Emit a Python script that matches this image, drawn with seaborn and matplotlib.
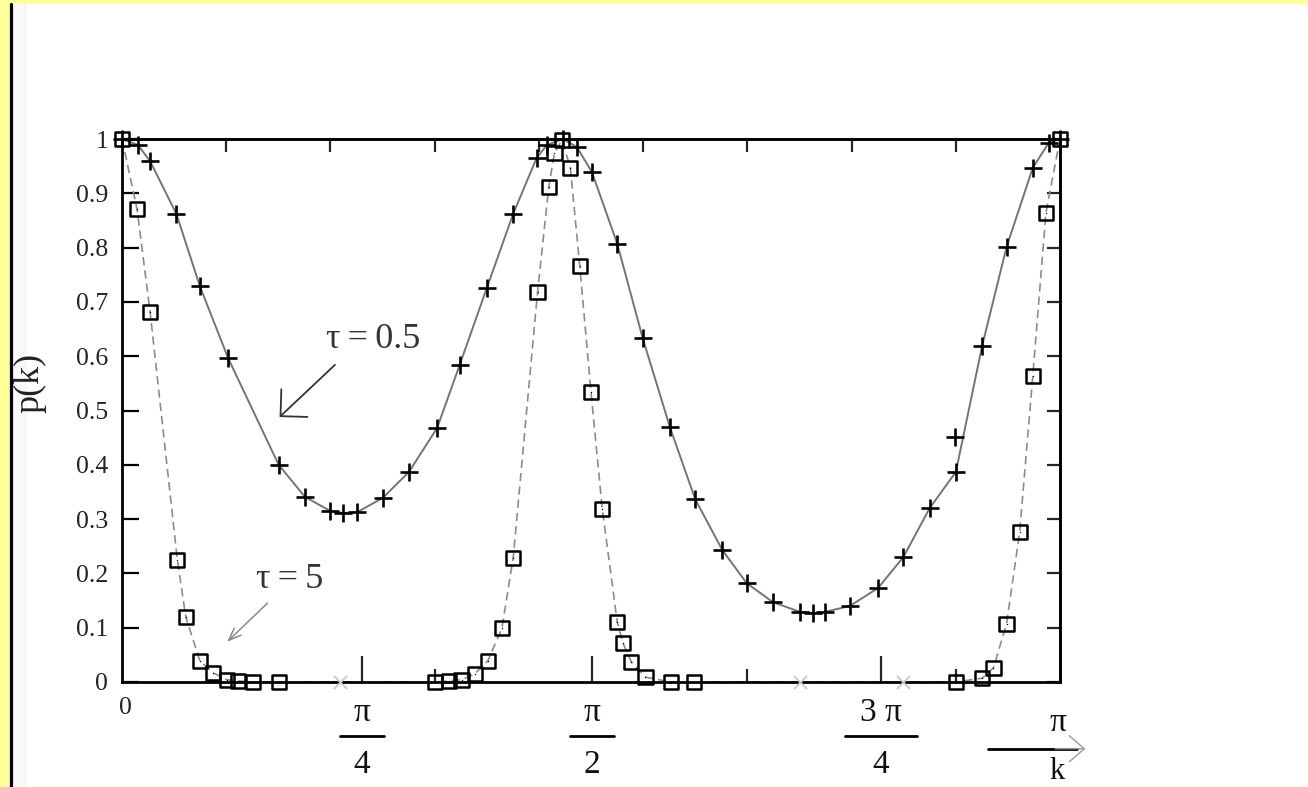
import matplotlib
matplotlib.use("Agg")
import matplotlib.pyplot as plt
import seaborn as sns
import pandas as pd
from matplotlib.patches import Rectangle
from matplotlib.lines import Line2D

# k measured in units of pi (0 .. 1), p(k) on the vertical axis
k_tau05 = [0.000, 0.017, 0.030, 0.058, 0.083, 0.113, 0.167, 0.195, 0.222, 0.236,
           0.251, 0.278, 0.306, 0.336, 0.360, 0.389, 0.417, 0.442, 0.453, 0.470,
           0.485, 0.501, 0.528, 0.555, 0.584, 0.611, 0.640, 0.666, 0.694, 0.723,
           0.737, 0.749, 0.776, 0.806, 0.833, 0.861, 0.889, 0.917, 0.943, 0.971,
           0.988, 1.000]
p_tau05 = [1.000, 0.989, 0.959, 0.862, 0.729, 0.597, 0.400, 0.341, 0.315, 0.311,
           0.313, 0.339, 0.387, 0.468, 0.584, 0.726, 0.862, 0.965, 0.989, 1.000,
           0.985, 0.939, 0.807, 0.634, 0.470, 0.337, 0.243, 0.182, 0.147, 0.129,
           0.127, 0.129, 0.140, 0.173, 0.230, 0.320, 0.387, 0.619, 0.801, 0.947,
           0.993, 1.000]
k_tau05_extra = [0.888]
p_tau05_extra = [0.451]

k_tau5 = [0.000, 0.016, 0.030, 0.059, 0.068, 0.083, 0.097, 0.112, 0.124, 0.140,
          0.167, 0.334, 0.349, 0.362, 0.376, 0.390, 0.405, 0.417, 0.443, 0.455,
          0.461, 0.469, 0.478, 0.488, 0.500, 0.512, 0.528, 0.534, 0.543, 0.558,
          0.585, 0.610, 0.889, 0.917, 0.929, 0.943, 0.957, 0.971, 0.985, 1.000]
p_tau5 = [1.000, 0.871, 0.681, 0.225, 0.120, 0.039, 0.017, 0.004, 0.002, 0.000,
          0.000, 0.000, 0.002, 0.004, 0.015, 0.039, 0.099, 0.228, 0.718, 0.912,
          0.974, 0.998, 0.947, 0.766, 0.534, 0.319, 0.110, 0.072, 0.037, 0.009,
          0.000, 0.000, 0.000, 0.007, 0.026, 0.107, 0.276, 0.564, 0.864, 1.000]

k_faint = [0.232, 0.723, 0.833]
p_faint = [0.0, 0.0, 0.0]

y_ticks = [0.0, 0.1, 0.2, 0.3, 0.4, 0.5, 0.6, 0.7, 0.8, 0.9, 1.0]
y_ticklabels = ["0", "0.1", "0.2", "0.3", "0.4", "0.5", "0.6", "0.7", "0.8", "0.9", "1"]
top_ticks = [1 / 9, 2 / 9, 3 / 9, 4 / 9, 5 / 9, 6 / 9, 7 / 9, 8 / 9]
bottom_minor_ticks = [3 / 9, 6 / 9, 8 / 9]
pi_tick_pos = [0.256, 0.501, 0.809]
pi_tick_num = ["π", "π", "3 π"]
pi_tick_den = ["4", "2", "4"]
pi_bar_width = [0.047, 0.047, 0.077]

df05 = pd.DataFrame({"k": k_tau05, "p": p_tau05})
df5 = pd.DataFrame({"k": k_tau5, "p": p_tau5})

sns.set_style("white")
plt.rcParams["font.family"] = ["Liberation Serif", "DejaVu Serif"]

W, H = 1308, 787
fig = plt.figure(figsize=(W / 100, H / 100), dpi=100, facecolor="#FFFF99")
fig.add_artist(Rectangle((12 / W, 0), 1, 1 - 4 / H, transform=fig.transFigure,
                         facecolor="white", edgecolor="none", zorder=-2))
fig.add_artist(Rectangle((12.5 / W, 0), 14 / W, 1 - 4 / H, transform=fig.transFigure,
                         facecolor="#f8f8f8", edgecolor="none", zorder=-1))
fig.add_artist(Line2D([11.3 / W, 11.3 / W], [0, 1 - 4 / H], transform=fig.transFigure,
                      color="black", lw=2.3))

ax = fig.add_axes([122 / W, 1 - 682 / H, 938 / W, 543 / H])
ax.set_facecolor("none")

# curves
sns.lineplot(data=df05, x="k", y="p", ax=ax, color="#747474", lw=1.4,
             sort=False, estimator=None, zorder=2)
sns.lineplot(data=df5, x="k", y="p", ax=ax, color="#8c8c8c", lw=1.2,
             linestyle=(0, (5, 3)), sort=False, estimator=None, zorder=2)

# markers
sns.scatterplot(x=k_faint, y=p_faint, ax=ax, marker="x", s=90, color="#c9c9c9",
                linewidth=1.3, clip_on=False, zorder=3)
sns.scatterplot(x=k_tau05 + k_tau05_extra, y=p_tau05 + p_tau05_extra, ax=ax,
                marker="+", s=150, color="black", linewidth=1.9, clip_on=False, zorder=4)
sns.scatterplot(data=df5, x="k", y="p", ax=ax, marker="s", s=105,
                facecolors="none", edgecolor="black", linewidth=1.8,
                clip_on=False, zorder=5)
ax.collections[-1].set_facecolor("none")
sns.scatterplot(data=df5, x="k", y="p", ax=ax, marker=".", s=4, color="black",
                linewidth=0, clip_on=False, zorder=6)

ax.set_xlim(0, 1)
ax.set_ylim(0, 1)
ax.set_xlabel("")
ax.set_ylabel("")

for sp in ax.spines.values():
    sp.set_visible(True)
    sp.set_color("black")
    sp.set_linewidth(2)

# y axis
ax.set_yticks(y_ticks)
ax.set_yticklabels(y_ticklabels)
ax.tick_params(axis="y", direction="in", length=12, width=1.6, left=True,
               labelsize=18.5, pad=10, labelcolor="#222222", color="black")
right = ax.secondary_yaxis("right")
right.set_yticks(y_ticks)
right.tick_params(direction="in", length=9.5, width=1.6, labelright=False)
right.spines["right"].set_linewidth(2)

# x axis
ax.set_xticks(pi_tick_pos)
ax.set_xticklabels([""] * len(pi_tick_pos))
ax.set_xticks(bottom_minor_ticks, minor=True)
ax.tick_params(axis="x", which="major", direction="in", length=19, width=1.6, bottom=True)
ax.tick_params(axis="x", which="minor", direction="in", length=9.5, width=1.6, bottom=True)
top = ax.secondary_xaxis("top")
top.set_xticks(top_ticks)
top.tick_params(direction="in", length=9.5, width=1.6, labeltop=False)
top.spines["top"].set_linewidth(2)

xt = ax.get_xaxis_transform()
ax.text(0.004, -0.048, "0", transform=xt, ha="center", va="center",
        fontsize=18.5, color="#222222")
for pos, num, den, w in zip(pi_tick_pos, pi_tick_num, pi_tick_den, pi_bar_width):
    ax.text(pos, -0.057, num, transform=xt, ha="center", va="center",
            fontsize=24, color="#111111")
    ax.add_line(Line2D([pos - w / 2, pos + w / 2], [-0.0994, -0.0994], transform=xt,
                       color="black", lw=2, clip_on=False))
    ax.text(pos, -0.153, den, transform=xt, ha="center", va="center",
            fontsize=24, color="#111111")

# axis titles
fig.text(30 / W, 1 - 383 / H, "p(k)", rotation=90, ha="center", va="center",
         fontsize=26, color="#222222")
ax.annotate("", xy=(1.027, -0.123), xytext=(0.995, -0.123), xycoords=xt,
            annotation_clip=False,
            arrowprops=dict(arrowstyle="->,head_length=10.8,head_width=9.4",
                            mutation_scale=1, color="#9a9a9a", lw=1.0,
                            shrinkA=0, shrinkB=0))
ax.add_line(Line2D([0.923, 1.018], [-0.123, -0.123], transform=xt,
                   color="black", lw=2, clip_on=False))
ax.text(0.998, -0.0755, "π", transform=xt, ha="center", va="center",
        fontsize=24, color="#111111")
fig.text(1057 / W, 1 / H, "k", ha="center", va="bottom",
         fontsize=22, color="#111111")

# curve labels
ax.text(0.268, 0.630, "τ\u2009=\u20090.5", ha="center", va="center", fontsize=26,
        color="#333333")
ax.annotate("", xy=(0.168, 0.488), xytext=(0.227, 0.584),
            arrowprops=dict(arrowstyle="->,head_length=13.7,head_width=13.7",
                            mutation_scale=1, color="#333333", lw=1.3,
                            shrinkA=0, shrinkB=0))
ax.text(0.179, 0.188, "τ\u2009=\u20095", ha="center", va="center", fontsize=26,
        color="#333333")
ax.annotate("", xy=(0.112, 0.074), xytext=(0.155, 0.145),
            arrowprops=dict(arrowstyle="->,head_length=9,head_width=3.5",
                            mutation_scale=1, color="#8a8a8a", lw=1.1,
                            shrinkA=0, shrinkB=0))

fig.savefig("out.png", dpi=100, facecolor=fig.get_facecolor())
